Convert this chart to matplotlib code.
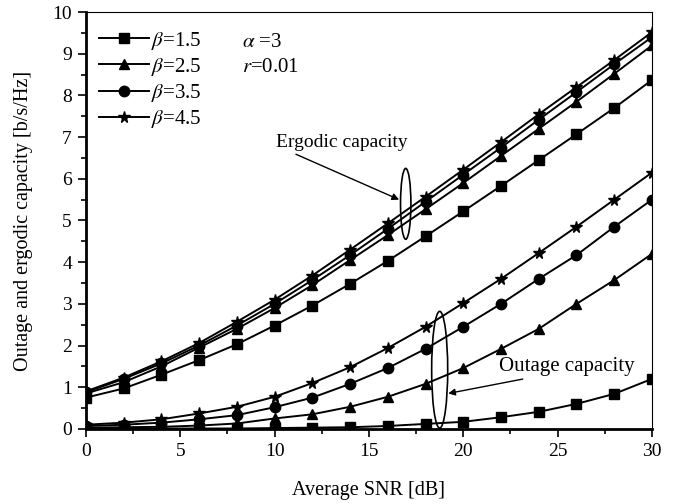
import matplotlib
matplotlib.use("Agg")
import matplotlib.pyplot as plt
from matplotlib.patches import Ellipse
from matplotlib.ticker import MultipleLocator

plt.rcParams['font.family'] = ['Liberation Serif', 'DejaVu Serif']
plt.rcParams['mathtext.fontset'] = 'stix'

snr = [0, 2, 4, 6, 8, 10, 12, 14, 16, 18, 20, 22, 24, 26, 28, 30]
betas = ['1.5', '2.5', '3.5', '4.5']
markers = ['s', '^', 'o', '*']

ergodic_b15 = [0.75, 0.97, 1.30, 1.65, 2.03, 2.48, 2.96, 3.48, 4.03, 4.62, 5.22, 5.83, 6.45, 7.07, 7.70, 8.37]
ergodic_b25 = [0.85, 1.12, 1.50, 1.95, 2.40, 2.90, 3.45, 4.05, 4.65, 5.27, 5.90, 6.55, 7.20, 7.85, 8.52, 9.20]
ergodic_b35 = [0.88, 1.20, 1.57, 2.00, 2.48, 3.00, 3.57, 4.17, 4.80, 5.45, 6.10, 6.75, 7.42, 8.08, 8.75, 9.40]
ergodic_b45 = [0.90, 1.23, 1.62, 2.06, 2.57, 3.10, 3.68, 4.30, 4.93, 5.57, 6.22, 6.88, 7.55, 8.20, 8.85, 9.52]

outage_b15 = [0.01, 0.01, 0.01, 0.01, 0.01, 0.02, 0.03, 0.04, 0.07, 0.12, 0.17, 0.28, 0.41, 0.60, 0.84, 1.20]
outage_b25 = [0.03, 0.04, 0.05, 0.08, 0.13, 0.25, 0.35, 0.53, 0.77, 1.08, 1.46, 1.92, 2.40, 3.00, 3.57, 4.20]
outage_b35 = [0.07, 0.10, 0.15, 0.23, 0.33, 0.52, 0.75, 1.08, 1.46, 1.92, 2.45, 3.00, 3.60, 4.17, 4.85, 5.50]
outage_b45 = [0.10, 0.15, 0.23, 0.37, 0.53, 0.77, 1.10, 1.48, 1.94, 2.45, 3.02, 3.60, 4.22, 4.85, 5.50, 6.15]

ergodic = [ergodic_b15, ergodic_b25, ergodic_b35, ergodic_b45]
outage = [outage_b15, outage_b25, outage_b35, outage_b45]

fig = plt.figure(figsize=(6.87, 5.04), dpi=100)
ax = fig.add_axes([0.125, 0.149, 0.824, 0.827])

msizes = [7.2, 7.2, 7.5, 8.5]
for b, m, ms, e, o in zip(betas, markers, msizes, ergodic, outage):
    ax.plot(snr, e, color='black', marker=m, markersize=ms, linewidth=1.4,
            label=r'$\beta$=' + b)
    ax.plot(snr, o, color='black', marker=m, markersize=ms, linewidth=1.4)

ax.set_xlim(0, 30)
ax.set_ylim(0, 10)
ax.xaxis.set_major_locator(MultipleLocator(5))
ax.xaxis.set_minor_locator(MultipleLocator(2.5))
ax.yaxis.set_major_locator(MultipleLocator(1))
ax.yaxis.set_minor_locator(MultipleLocator(0.5))
ax.tick_params(which='both', direction='out', top=False, right=False, labelsize=14, width=1.2)
ax.tick_params(which='major', length=6, pad=4)
ax.tick_params(which='minor', length=3.5)
for s in ['left', 'bottom']:
    ax.spines[s].set_linewidth(2)
for s in ['top', 'right']:
    ax.spines[s].set_linewidth(0.8)

ax.set_xlabel('Average SNR [dB]', fontsize=14.5, labelpad=15)
ax.set_ylabel('Outage and ergodic capacity [b/s/Hz]', fontsize=14.5, labelpad=14)

leg = ax.legend(loc='upper left', frameon=False, fontsize=15, handlelength=2.4,
                handletextpad=0.1, labelspacing=0.2, borderaxespad=0.0,
                bbox_to_anchor=(0.008, 0.978))

ax.text(8.3, 9.27, r'$\alpha$ =3', fontsize=15, va='center')
ax.text(8.3, 8.67, r'$r$=0.01', fontsize=15, va='center')

# annotations
ax.add_patch(Ellipse((16.95, 5.4), 0.55, 1.7, fill=False, edgecolor='black', linewidth=1.2))
ax.add_patch(Ellipse((18.75, 1.42), 0.85, 2.8, fill=False, edgecolor='black', linewidth=1.2))
ax.annotate('Ergodic capacity', xy=(16.6, 5.5), xytext=(10.1, 6.86), fontsize=14,
            va='center', ha='left',
            arrowprops=dict(arrowstyle='-|>', color='black', lw=1.0,
                            shrinkA=0, shrinkB=0, mutation_scale=10,
                            relpos=(0.1, 0.0)))
ax.annotate('Outage capacity', xy=(19.2, 0.85), xytext=(21.9, 1.49), fontsize=15,
            va='center', ha='left',
            arrowprops=dict(arrowstyle='-|>', color='black', lw=1.0,
                            shrinkA=0, shrinkB=0, mutation_scale=10,
                            relpos=(0.28, 0.0)))

fig.savefig('out.png', dpi=100)
